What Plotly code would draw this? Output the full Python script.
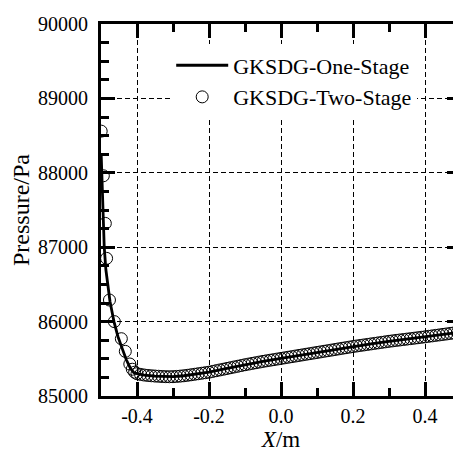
import plotly.graph_objects as go

# GKSDG one-stage (solid line)
x_one = [-0.4995, -0.4965, -0.4935, -0.491, -0.4865, -0.481, -0.475, -0.464, -0.453, -0.442,
         -0.430, -0.419, -0.409, -0.40, -0.38, -0.35, -0.32, -0.30, -0.27, -0.25, -0.20,
         -0.15, -0.10, -0.05, 0.0, 0.05, 0.10, 0.15, 0.20, 0.25, 0.30, 0.35, 0.40, 0.45, 0.50]
p_one = [88250, 87700, 87300, 87000, 86700, 86450, 86270, 86000, 85800, 85650,
         85490, 85380, 85315, 85300, 85282, 85268, 85260, 85260, 85272, 85285, 85320,
         85370, 85420, 85465, 85505, 85545, 85585, 85625, 85665, 85700, 85735, 85765, 85795, 85828, 85860]

# GKSDG two-stage (open circles)
x_two = [-0.4995, -0.4935, -0.4880, -0.4845, -0.4765, -0.4630, -0.4435, -0.4325, -0.4200, -0.4130, -0.4065,
         -0.40, -0.39, -0.38, -0.37, -0.36, -0.35, -0.34, -0.33, -0.32, -0.31,
         -0.30, -0.29, -0.28, -0.27, -0.26, -0.25, -0.24, -0.23, -0.22, -0.21,
         -0.20, -0.19, -0.18, -0.17, -0.16, -0.15, -0.14, -0.13, -0.12, -0.11,
         -0.10, -0.09, -0.08, -0.07, -0.06, -0.05, -0.04, -0.03, -0.02, -0.01,
         0.00, 0.01, 0.02, 0.03, 0.04, 0.05, 0.06, 0.07, 0.08, 0.09,
         0.10, 0.11, 0.12, 0.13, 0.14, 0.15, 0.16, 0.17, 0.18, 0.19,
         0.20, 0.21, 0.22, 0.23, 0.24, 0.25, 0.26, 0.27, 0.28, 0.29,
         0.30, 0.31, 0.32, 0.33, 0.34, 0.35, 0.36, 0.37, 0.38, 0.39,
         0.40, 0.41, 0.42, 0.43, 0.44, 0.45, 0.46, 0.47, 0.48, 0.49, 0.50]
p_two = [88560, 87960, 87320, 86850, 86290, 86000, 85770, 85600, 85430, 85360, 85320,
         85300, 85290, 85282, 85276, 85272, 85268, 85265, 85262, 85260, 85259,
         85260, 85263, 85267, 85272, 85278, 85285, 85292, 85299, 85306, 85313,
         85320, 85330, 85340, 85350, 85360, 85370, 85380, 85390, 85400, 85410,
         85420, 85429, 85438, 85447, 85456, 85465, 85473, 85481, 85489, 85497,
         85505, 85513, 85521, 85529, 85537, 85545, 85553, 85561, 85569, 85577,
         85585, 85593, 85601, 85609, 85617, 85625, 85633, 85641, 85649, 85657,
         85665, 85672, 85679, 85686, 85693, 85700, 85707, 85714, 85721, 85728,
         85735, 85741, 85747, 85753, 85759, 85765, 85771, 85777, 85783, 85789,
         85795, 85802, 85808, 85815, 85821, 85828, 85834, 85841, 85847, 85854, 85860]

x_tickvals = [-0.4, -0.2, 0.0, 0.2, 0.4]
x_ticktext = ["-0.4", "-0.2", "0.0", "0.2", "0.4"]
y_tickvals = [85000, 86000, 87000, 88000, 89000, 90000]
y_ticktext = ["85000", "86000", "87000", "88000", "89000", "90000"]

FONT = "Liberation Serif"

fig = go.Figure()
fig.add_trace(go.Scatter(x=x_one, y=p_one, mode="lines", name="GKSDG-One-Stage",
                         line=dict(color="black", width=2.8)))
fig.add_trace(go.Scatter(x=x_two, y=p_two, mode="markers", name="GKSDG-Two-Stage",
                         marker=dict(symbol="circle-open", size=12, color="black",
                                     line=dict(width=1, color="black"))))

axis_common = dict(
    showline=True, linecolor="black", linewidth=3, mirror="allticks",
    ticks="inside", ticklen=14, tickwidth=2.5, tickcolor="black",
    showgrid=True, gridcolor="black", gridwidth=1, griddash="5px,3px",
    zeroline=False,
    tickfont=dict(family=FONT, size=20, color="black"),
    ticklabeloverflow="allow",
)

# The page body adds an 8px offset; the plot's right edge lies at the window edge,
# as in the reference, where the right frame line is cut off.
fig.update_layout(
    width=461, height=447,
    margin=dict(l=93, r=5, t=8, b=59),
    paper_bgcolor="white", plot_bgcolor="white",
    font=dict(family=FONT, color="black"),
    xaxis=dict(
        range=[-0.5, 0.5], tickvals=x_tickvals, ticktext=x_ticktext,
        minor=dict(ticks="inside", ticklen=8, tickwidth=2.5, tickcolor="black", dtick=0.1,
                   tick0=0, showgrid=False),
        title=dict(text="<i>X</i>/m", font=dict(family=FONT, size=23), standoff=2),
        ticklabelstandoff=0,
        **axis_common,
    ),
    yaxis=dict(
        range=[85000, 90000], tickvals=y_tickvals, ticktext=y_ticktext,
        minor=dict(ticks="inside", ticklen=8, tickwidth=2.5, tickcolor="black", dtick=250,
                   tick0=85000, showgrid=False),
        title=dict(text="Pressure/Pa", font=dict(family=FONT, size=24), standoff=8),
        ticklabelstandoff=6,
        **axis_common,
    ),
    legend=dict(
        x=0.195, y=0.945, xanchor="left", yanchor="top",
        bgcolor="white", borderwidth=0,
        font=dict(family=FONT, size=22, color="black"),
        itemwidth=52, tracegroupgap=0,
    ),
    showlegend=True,
)

fig.write_html("out.html")
